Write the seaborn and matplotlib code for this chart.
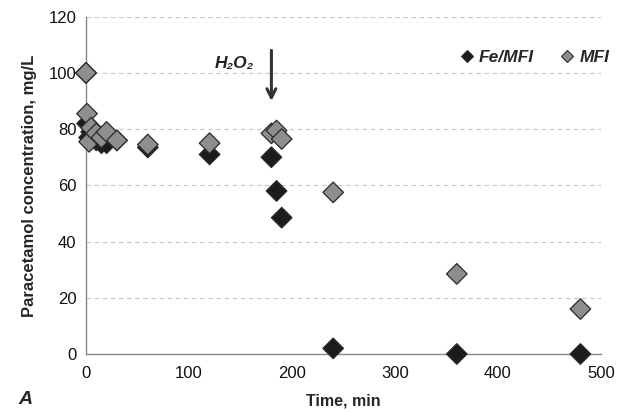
import matplotlib
matplotlib.use("Agg")
import matplotlib.pyplot as plt
import seaborn as sns
import pandas as pd

# Sampling times (min) and measured paracetamol concentrations (mg/L)
time_min = [0, 1, 3, 5, 10, 15, 20, 30, 60, 120, 180, 185, 190, 240, 360, 480]
fe_mfi = [100, 82, 77, 79, 76, 75, 75, 76, 73.5, 71, 70, 58, 48.5, 2, 0, 0]
mfi = [100, 85.5, 75.5, 80.5, 78.5, 77, 79, 76, 74.5, 75, 78.5, 79.5, 76.5, 57.5, 28.5, 16]

series_names = ["Fe/MFI", "MFI"]
x_ticks = [0, 100, 200, 300, 400, 500]
y_ticks = [0, 20, 40, 60, 80, 100, 120]

h2o2_time = 180

df = pd.concat([
    pd.DataFrame({"Time": time_min, "Conc": fe_mfi, "Catalyst": series_names[0]}),
    pd.DataFrame({"Time": time_min, "Conc": mfi, "Catalyst": series_names[1]}),
])

sns.set_theme(style="white")
plt.rcParams["font.family"] = ["Liberation Sans", "DejaVu Sans"]

fig = plt.figure(figsize=(6.17, 4.12), dpi=100)
ax = fig.add_axes([86 / 617, 1 - 354 / 412, (601 - 86) / 617, (354 - 16.7) / 412])

palette = {"Fe/MFI": "#1c1c1c", "MFI": "#8e8e8e"}
sns.scatterplot(data=df, x="Time", y="Conc", hue="Catalyst", palette=palette,
                marker="D", s=110, edgecolor="#2a2a2a", linewidth=0.9,
                ax=ax, zorder=3, legend=False, clip_on=False)

ax.set_xlim(0, 500)
ax.set_ylim(0, 120)
ax.set_xticks(x_ticks)
ax.set_yticks(y_ticks)
ax.tick_params(axis="both", labelsize=12, length=4, width=0.8,
               direction="out", pad=3, color="#888888")
ax.tick_params(axis="x", pad=5)
for t in ax.get_xticklabels() + ax.get_yticklabels():
    t.set_color("#111111")

ax.yaxis.grid(True, linestyle=(0, (3.5, 3)), color="#c8c8c8", linewidth=0.9)
ax.set_axisbelow(True)
for side in ["top", "right"]:
    ax.spines[side].set_visible(False)
for side in ["left", "bottom"]:
    ax.spines[side].set_color("#888888")
    ax.spines[side].set_linewidth(1.0)

ax.set_xlabel("Time, min", fontsize=11.5, fontweight="bold", labelpad=9)
ax.set_ylabel("Paracetamol concentration, mg/L", fontsize=12,
              fontweight="bold", labelpad=8)

# H2O2 addition marker
ax.annotate("", xy=(h2o2_time, 89), xytext=(h2o2_time, 109),
            arrowprops=dict(arrowstyle="->", color="#333333", lw=2.2,
                            mutation_scale=16))
ax.text(h2o2_time - 17, 103.5, "H₂O₂", fontsize=12.5, fontweight="bold",
        fontstyle="italic", ha="right", va="center", color="#222222")

# Legend
handles = [plt.Line2D([], [], marker="D", linestyle="none", markersize=6,
                      markerfacecolor=palette[n], markeredgecolor="#2a2a2a",
                      markeredgewidth=0.8, label=n) for n in series_names]
leg = fig.legend(handles=handles, ncol=2, frameon=False, loc="center left",
                 bbox_to_anchor=(460 / 617, 1 - 57 / 412), handlelength=0.8,
                 handletextpad=0.3, columnspacing=1.5, borderpad=0,
                 borderaxespad=0,
                 prop={"size": 12.5, "weight": "bold", "style": "italic"})

fig.text(18 / 617, 1 - 400 / 412, "A", fontsize=14, fontweight="bold",
         fontstyle="italic", ha="left", va="center")

fig.savefig("out.png", dpi=100)
